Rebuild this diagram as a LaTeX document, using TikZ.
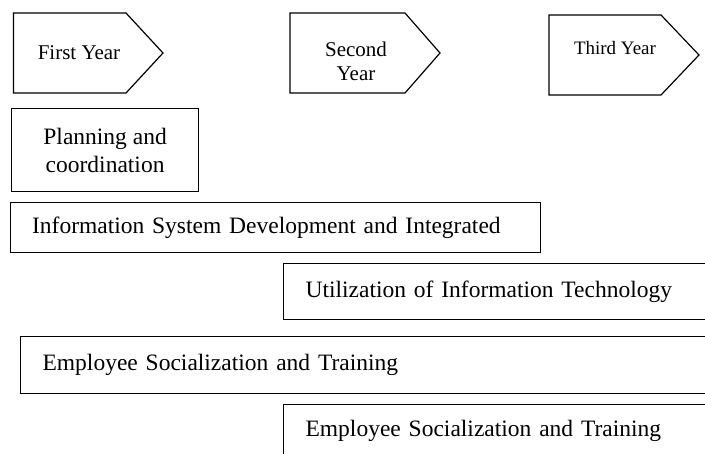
\documentclass[tikz,border=0pt]{standalone}
\usepackage{fontspec}
\setmainfont{Liberation Serif}
\usepackage{tikz}

\begin{document}
\begin{tikzpicture}[x=1pt, y=-1pt,
  yearbox/.style={draw=black, line width=1.2pt, line join=miter},
  yeartext/.style={align=center, inner sep=0pt, font=\fontsize{21}{24}\selectfont},
  taskbox/.style={draw=black, line width=1.2pt, anchor=north west, align=left, inner ysep=0pt, inner xsep=22pt, font=\fontsize{23.5}{28}\selectfont}]
\useasboundingbox (0,0) rectangle (705,454);
\clip (0,0) rectangle (705,454);
% year arrows along the top
\draw[yearbox] (13.5,13) -- (126,13) -- (163,53) -- (126,93) -- (13.5,93) -- cycle;
\node[yeartext] at (79,53) (y1) {First Year};
\draw[yearbox] (290,13) -- (405,13) -- (440,53) -- (405,93) -- (290,93) -- cycle;
\node[yeartext] at (356,61) (y2) {Second\\Year};
\draw[yearbox] (549,15) -- (661,15) -- (699,55) -- (661,95) -- (549,95) -- cycle;
\node[yeartext, font=\fontsize{19}{22}\selectfont] at (615,48) (y3) {Third Year};
% activity bars
\node[taskbox, align=center, inner xsep=0pt, minimum width=187pt, minimum height=83pt] at (11,108) (plan) {Planning and\\coordination};
\node[taskbox, text width=487pt, minimum height=50pt, inner xsep=21.5pt] at (10,202) (infosys) {Information System Development and Integrated};
\node[taskbox, text width=403pt, minimum height=56pt] at (283,263) (utilize) {Utilization of Information Technology};
\node[taskbox, text width=666pt, minimum height=57pt] at (20,336) (train1) {Employee Socialization and Training};
\node[taskbox, text width=403pt, minimum height=53pt] at (283,404) (train2) {Employee Socialization and Training};
\end{tikzpicture}
\end{document}
